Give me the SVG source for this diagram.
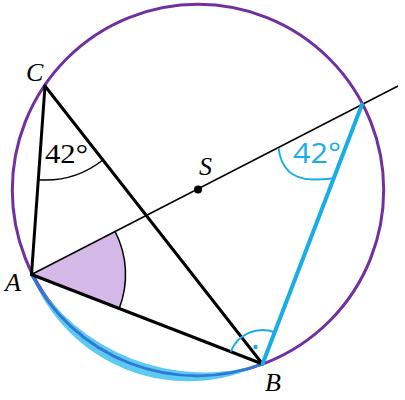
<svg xmlns="http://www.w3.org/2000/svg" width="405" height="400" viewBox="0 0 405 400">
<style>
.lbl{font-family:"Liberation Serif","DejaVu Serif",serif;font-style:italic;font-size:26px;fill:#000}
.thick{stroke:#000;stroke-width:3;fill:none;stroke-linecap:round}
.thin{stroke:#000;stroke-width:1.5;fill:none}
.blue{stroke:#19ade6;fill:none}
</style>
<rect width="405" height="400" fill="#fff"/>
<g id="circle">
<circle cx="198" cy="190" r="185.7" fill="none" stroke="#7030a0" stroke-width="3"/>
</g>
<g id="arcAB">
<path d="M31.5,274.5 A168.4,168.4 0 0 0 262.5,364 A202.4,202.4 0 0 1 31.5,274.5 Z" fill="#5dcaf2"/>
<path d="M31.5,274.5 A186,186 0 0 0 262.5,364" fill="none" stroke="#2f78d4" stroke-width="2.8"/>
</g>
<g id="angleA">
<path d="M31.5,274.5 L115.1,231.5 A94,94 0 0 1 119.2,308.5 Z" fill="#d4b8e8"/>
<path d="M115.1,231.5 A94,94 0 0 1 119.2,308.5" class="thin"/>
</g>
<g id="angleC">
<path d="M38.3,179.8 A94,94 0 0 0 102.9,160" class="thin"/>
<text x="45" y="163" font-family="Liberation Serif, DejaVu Serif, serif" font-size="27" textLength="43" lengthAdjust="spacingAndGlyphs">42°</text>
</g>
<g id="connectors">
<line x1="31.5" y1="274.5" x2="398" y2="86" class="thin"/>
<line x1="31.5" y1="274.5" x2="45" y2="86" class="thick"/>
<line x1="45" y1="86" x2="262.5" y2="364" class="thick"/>
<line x1="31.5" y1="274.5" x2="262.5" y2="364" class="thick"/>
<line x1="262.5" y1="364" x2="362" y2="104.5" class="blue" stroke-width="4" stroke-linecap="round"/>
</g>
<g id="angleB">
<path d="M230.8,351.7 A34,34 0 0 1 274.7,332.3" class="blue" stroke-width="2"/>
<circle cx="255.5" cy="347" r="2.2" fill="#19ade6"/>
</g>
<g id="angleD">
<path d="M278.5,148 C281,168 292,179 312,179.5 C322,179.7 328,179 332,178.5" class="blue" stroke-width="2"/>
<text x="293" y="163" font-family="Open Sans, DejaVu Sans, sans-serif" font-weight="400" font-size="28" fill="#19ade6" textLength="48" lengthAdjust="spacingAndGlyphs">42°</text>
</g>
<g id="S">
<circle cx="198" cy="189.5" r="4" fill="#000"/>
<text x="199" y="175" class="lbl">S</text>
</g>
<g id="A"><text x="5" y="291" class="lbl">A</text></g>
<g id="B"><text x="265" y="391" class="lbl">B</text></g>
<g id="C"><text x="26" y="81" class="lbl">C</text></g>
</svg>
